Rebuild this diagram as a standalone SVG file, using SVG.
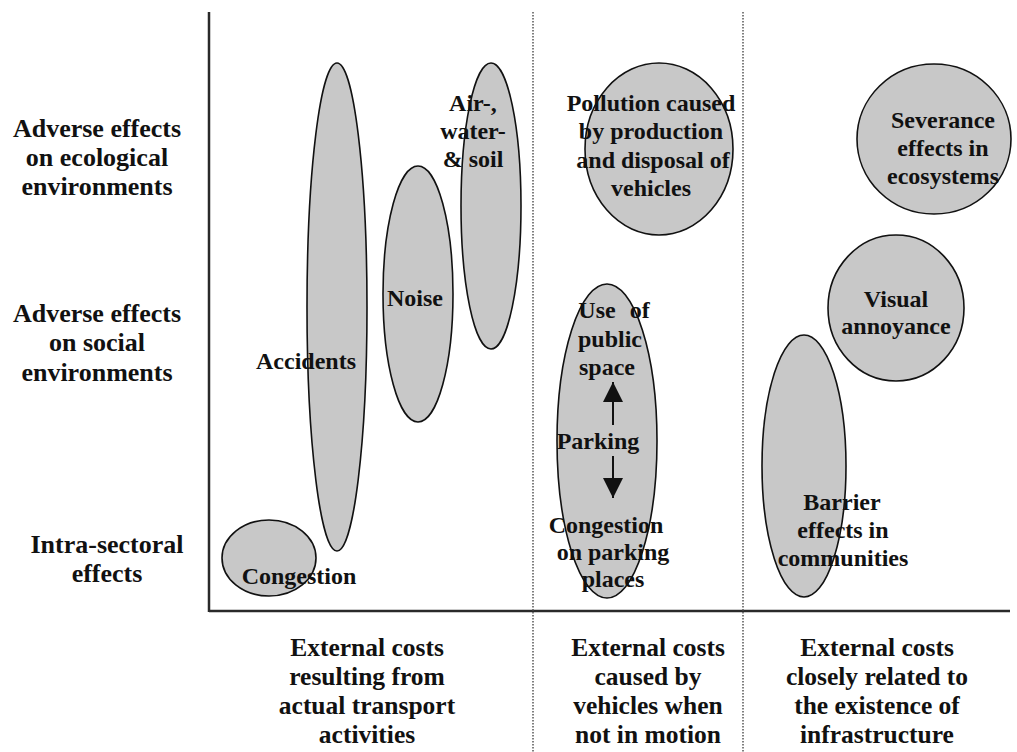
<svg xmlns="http://www.w3.org/2000/svg" width="1017" height="752" viewBox="0 0 1017 752">
<defs>
<style>
.bg{fill:#ffffff}
.axis{stroke:#2a2a2a;stroke-width:2.5;fill:none}
.sep{stroke:#555;stroke-width:1.5;stroke-dasharray:1.5 1.5;fill:none}
.blob{fill:#c8c8c8;stroke:#111;stroke-width:1.6}
.t{font-family:"Liberation Serif","Times New Roman",serif;font-weight:bold;fill:#111;text-anchor:middle}
.in{font-size:24px}
.side{font-size:26px}
.foot{font-size:25.5px}
.arr{stroke:#111;stroke-width:2;fill:none}
</style>
<marker id="headBig" viewBox="0 0 20 20" refX="20" refY="10" markerWidth="21" markerHeight="20" markerUnits="userSpaceOnUse" orient="auto">
<path d="M0,0 L20,10 L0,20 z" fill="#111"/>
</marker>
</defs>
<rect class="bg" x="0" y="0" width="1017" height="752"/>

<g id="frame">
<line class="axis" x1="209" y1="12" x2="209" y2="612"/>
<line class="axis" x1="209" y1="611" x2="1010" y2="611"/>
<line class="sep" x1="533" y1="12" x2="533" y2="752"/>
<line class="sep" x1="743" y1="12" x2="743" y2="752"/>
</g>

<g id="row-labels">
<text class="t side" x="97" y="137">Adverse effects</text>
<text class="t side" x="97" y="166">on ecological</text>
<text class="t side" x="97" y="195">environments</text>
<text class="t side" x="97" y="322">Adverse effects</text>
<text class="t side" x="97" y="351">on social</text>
<text class="t side" x="97" y="381">environments</text>
<text class="t side" x="107" y="553">Intra-sectoral</text>
<text class="t side" x="107" y="582">effects</text>
</g>

<g id="col-labels">
<text class="t foot" x="367" y="656">External costs</text>
<text class="t foot" x="367" y="685">resulting from</text>
<text class="t foot" x="367" y="714">actual transport</text>
<text class="t foot" x="367" y="743">activities</text>
<text class="t foot" x="648" y="656">External costs</text>
<text class="t foot" x="648" y="685">caused by</text>
<text class="t foot" x="648" y="714">vehicles when</text>
<text class="t foot" x="648" y="743">not in motion</text>
<text class="t foot" x="877" y="656">External costs</text>
<text class="t foot" x="877" y="685">closely related to</text>
<text class="t foot" x="877" y="714">the existence of</text>
<text class="t foot" x="877" y="743">infrastructure</text>
</g>

<g id="accidents">
<ellipse class="blob" cx="337" cy="307" rx="30" ry="244"/>
<text class="t in" x="306" y="369">Accidents</text>
</g>
<g id="noise">
<ellipse class="blob" cx="418" cy="294" rx="35" ry="128"/>
<text class="t in" x="415" y="306">Noise</text>
</g>
<g id="air-water-soil">
<ellipse class="blob" cx="491" cy="206" rx="30" ry="143"/>
<text class="t in" x="473" y="111">Air-,</text>
<text class="t in" x="473" y="139">water-</text>
<text class="t in" x="473" y="167">&amp; soil</text>
</g>
<g id="congestion">
<ellipse class="blob" cx="269" cy="558" rx="47" ry="38"/>
<text class="t in" x="299" y="584">Congestion</text>
</g>
<g id="pollution">
<ellipse class="blob" cx="659" cy="149" rx="74" ry="86"/>
<text class="t in" x="651" y="111">Pollution caused</text>
<text class="t in" x="651" y="139">by production</text>
<text class="t in" x="653" y="168">and disposal of</text>
<text class="t in" x="651" y="196">vehicles</text>
</g>
<g id="parking">
<ellipse class="blob" cx="607" cy="441" rx="50" ry="157"/>
<text class="t in" x="614" y="318" word-spacing="8">Use of</text>
<text class="t in" x="610" y="347">public</text>
<text class="t in" x="607" y="375">space</text>
<text class="t in" x="598" y="449">Parking</text>
<text class="t in" x="606" y="533">Congestion</text>
<text class="t in" x="613" y="560">on parking</text>
<text class="t in" x="613" y="587">places</text>
</g>
<g id="severance">
<ellipse class="blob" cx="934" cy="139" rx="77" ry="75"/>
<text class="t in" x="943" y="128">Severance</text>
<text class="t in" x="943" y="156">effects in</text>
<text class="t in" x="943" y="184">ecosystems</text>
</g>
<g id="visual">
<ellipse class="blob" cx="896" cy="308" rx="68" ry="73"/>
<text class="t in" x="896" y="307">Visual</text>
<text class="t in" x="896" y="334">annoyance</text>
</g>
<g id="barrier">
<ellipse class="blob" cx="804" cy="466" rx="42" ry="131"/>
<text class="t in" x="842" y="510">Barrier</text>
<text class="t in" x="843" y="538">effects in</text>
<text class="t in" x="843" y="566">communities</text>
</g>

<g id="connectors">
<line class="arr" x1="613" y1="425" x2="613" y2="382" marker-end="url(#headBig)"/>
<line class="arr" x1="613" y1="456" x2="613" y2="498" marker-end="url(#headBig)"/>
</g>
</svg>
